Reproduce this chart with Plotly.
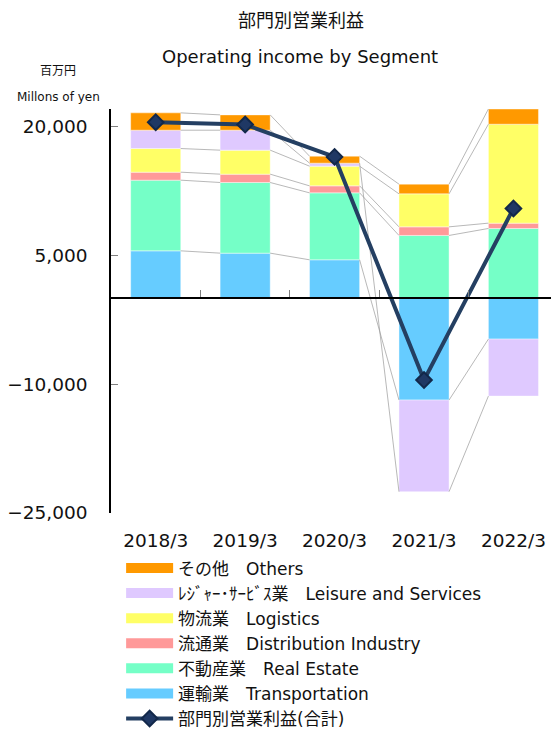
import plotly.graph_objects as go

# ---------------- data ----------------
categories = ["2018/3", "2019/3", "2020/3", "2021/3", "2022/3"]
transportation = [5500, 5230, 4455, -11860, -4770]
real_estate = [8220, 8220, 7790, 7290, 8100]
distribution = [930, 970, 815, 1000, 620]
logistics = [2750, 2790, 2290, 3840, 11510]
leisure = [2135, 2325, 350, -10660, -6630]
others = [2015, 1780, 810, 1125, 1770]
total = [20465, 20190, 16430, -9535, 10430]

series_names = [
    "運輸業　Transportation",
    "不動産業　Real Estate",
    "流通業　Distribution Industry",
    "物流業　Logistics",
    "ﾚｼﾞｬｰ･ｻｰﾋﾞｽ業　Leisure and Services",
    "その他　Others",
]
total_name = "部門別営業利益(合計)"
y_tick_values = [20000, 5000, -10000, -25000]
y_range = [-25000, 22000]

# ---------------- styles ----------------
colors = ["#66CCFF", "#75FFC7", "#FF9999", "#FFFF66", "#DFC9FF", "#FF9900"]
FONT = "DejaVu Sans, Noto Sans CJK JP, sans-serif"
TXT = "#111111"
BAR_W = 0.56

series_values = [transportation, real_estate, distribution, logistics, leisure, others]
xs = list(range(len(categories)))

fig = go.Figure()

# stacked bars
for name, vals, col in zip(series_names, series_values, colors):
    fig.add_trace(go.Bar(
        x=xs, y=vals, name=name, width=BAR_W,
        marker=dict(color=col, line=dict(color="rgba(255,255,255,0.7)", width=0.6)),
        showlegend=False, hoverinfo="y+name",
    ))

# series lines connecting segment ends between adjacent bars (relative stacking)
pos_cum = [0] * len(categories)
neg_cum = [0] * len(categories)
lx, ly = [], []
for vals in series_values:
    ends = []
    for i, v in enumerate(vals):
        if v >= 0:
            pos_cum[i] += v
            ends.append(pos_cum[i])
        else:
            neg_cum[i] += v
            ends.append(neg_cum[i])
    for i in range(len(categories) - 1):
        lx += [xs[i] + BAR_W / 2, xs[i + 1] - BAR_W / 2, None]
        ly += [ends[i], ends[i + 1], None]
fig.add_trace(go.Scatter(
    x=lx, y=ly, mode="lines", line=dict(color="#999999", width=0.7),
    showlegend=False, hoverinfo="skip",
))

# total line
fig.add_trace(go.Scatter(
    x=xs, y=total, mode="lines+markers", name=total_name,
    line=dict(color="#243F62", width=4),
    marker=dict(symbol="diamond", size=12, color="#1F3864",
                line=dict(color="#12284A", width=2)),
    legendrank=7,
))

# legend entries for the bar series (wide swatches)
for k, (name, col) in enumerate(zip(series_names, colors)):
    fig.add_trace(go.Scatter(
        x=[None], y=[None], mode="lines", name=name,
        line=dict(color=col, width=10), legendrank=6 - k,
        hoverinfo="skip",
    ))

# dummy trace for the zero-line axis
fig.add_trace(go.Scatter(x=[None], y=[None], xaxis="x2", showlegend=False,
                         hoverinfo="skip"))

x_range = [-0.5, 4.42]
fig.update_layout(
    width=551, height=729,
    margin=dict(l=111, r=0, t=109, b=216, autoexpand=False),
    paper_bgcolor="white", plot_bgcolor="white",
    font=dict(family=FONT, color=TXT),
    barmode="relative",
    xaxis=dict(range=x_range, tickvals=xs, ticktext=categories,
               showline=False, ticks="", showgrid=False, zeroline=False,
               tickfont=dict(size=18.5, color=TXT), ticklabelstandoff=14),
    xaxis2=dict(range=x_range, overlaying="x", anchor="free",
                position=(0 - y_range[0]) / (y_range[1] - y_range[0]),
                showline=True, linecolor="black", linewidth=1.5,
                ticks="inside", tickvals=[0.5, 1.5, 2.5, 3.5], ticklen=7,
                tickcolor="#7f7f7f", tickwidth=1, showticklabels=False,
                showgrid=False, zeroline=False, layer="above traces"),
    yaxis=dict(range=y_range, tickvals=y_tick_values, tickformat=",",
               showline=True, linecolor="black", linewidth=1.5,
               ticks="inside", ticklen=7, tickcolor="#7f7f7f", tickwidth=1,
               showgrid=False, zeroline=False,
               tickfont=dict(size=18.5, color=TXT), ticklabelstandoff=18),
    legend=dict(x=0.023, y=-0.0926, xanchor="left", yanchor="top",
                font=dict(size=17, color=TXT), itemwidth=47,
                bgcolor="rgba(0,0,0,0)", tracegroupgap=0),
    showlegend=True,
)

# titles and unit labels
fig.add_annotation(text="部門別営業利益", xref="paper", yref="paper",
                   x=(301 - 111) / 440, y=1 + (109 - 20) / 404,
                   xanchor="center", yanchor="middle", showarrow=False,
                   font=dict(size=18, color=TXT))
fig.add_annotation(text="Operating income by Segment", xref="paper", yref="paper",
                   x=(300 - 111) / 440, y=1 + (109 - 57) / 404,
                   xanchor="center", yanchor="middle", showarrow=False,
                   font=dict(size=18, color=TXT))
fig.add_annotation(text="百万円", xref="paper", yref="paper",
                   x=(58 - 111) / 440, y=1 + (109 - 71) / 404,
                   xanchor="center", yanchor="middle", showarrow=False,
                   font=dict(size=12, color=TXT))
fig.add_annotation(text="Millons of yen", xref="paper", yref="paper",
                   x=(58 - 111) / 440, y=1 + (109 - 97) / 404,
                   xanchor="center", yanchor="middle", showarrow=False,
                   font=dict(size=12, color=TXT))

fig.write_html("out.html",
               config={"displayModeBar": False},
               post_script="document.body.style.margin='0px';"
                           "document.body.style.overflow='hidden';")
